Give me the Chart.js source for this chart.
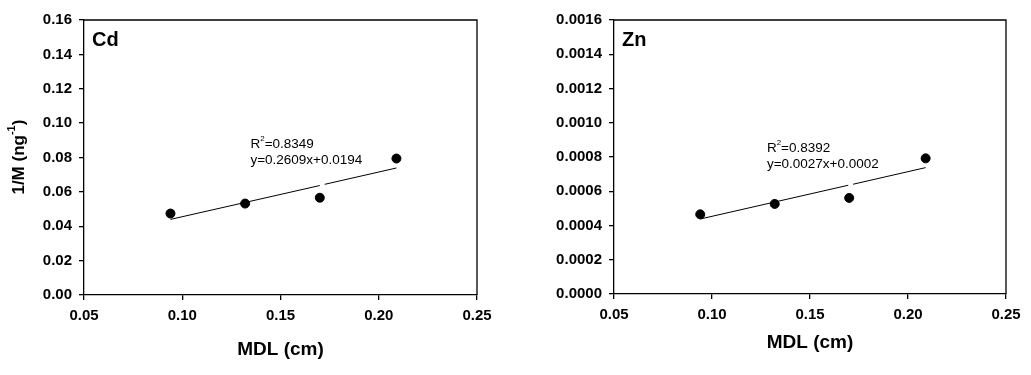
<!DOCTYPE html>
<html>
<head>
<meta charset="utf-8">
<script src="https://cdn.jsdelivr.net/npm/chart.js@4.4.1/dist/chart.umd.min.js"></script>
<style>
  html, body { margin: 0; padding: 0; background: #fff; }
  #wrap { position: relative; width: 1031px; height: 375px; overflow: hidden; }
  .panel { position: absolute; top: 0; height: 375px; }
</style>
</head>
<body>
<div id="wrap">
  <div class="panel" id="cd-box" style="left:0;width:515px"><canvas id="cd"></canvas></div>
  <div class="panel" id="zn-box" style="left:515px;width:516px"><canvas id="zn"></canvas></div>
</div>
<script>
/* ++++++++++ DATA ++++++++++ */
const mdl = [0.094, 0.132, 0.170, 0.209];

const cdValues = [0.0474, 0.0532, 0.0566, 0.0794];
const cdFitX = [0.094, 0.1700, 0.1710, 0.1725, 0.209];
const cdFitY = [0.0440, 0.0637, null, 0.0644, 0.0739];
const cdTicksY = [0, 0.02, 0.04, 0.06, 0.08, 0.10, 0.12, 0.14, 0.16];

const znValues = [0.000465, 0.000526, 0.000561, 0.000792];
const znFitX = [0.094, 0.1695, 0.1705, 0.1720, 0.209];
const znFitY = [0.000438, 0.000635, null, 0.000641, 0.000738];
const znTicksY = [0, 0.0002, 0.0004, 0.0006, 0.0008, 0.0010, 0.0012, 0.0014, 0.0016];

const ticksX = [0.05, 0.10, 0.15, 0.20, 0.25];

/* ++++++++++ HELPERS ++++++++++ */
const FAM = "Arial, 'Liberation Sans', sans-serif";

function toPoints(xs, ys) {
  return xs.map((x, i) => ({ x: x, y: ys[i] }));
}

// draws "base" + superscript + "rest"
function supText(ctx, x, y, base, sup, rest, size, bold) {
  const w = bold ? "bold " : "";
  ctx.font = w + size + "px " + FAM;
  ctx.fillText(base, x, y);
  let cx = x + ctx.measureText(base).width;
  ctx.font = w + Math.round(size * 0.62) + "px " + FAM;
  ctx.fillText(sup, cx, y - size * 0.4);
  cx += ctx.measureText(sup).width;
  ctx.font = w + size + "px " + FAM;
  ctx.fillText(rest, cx, y);
  return cx + ctx.measureText(rest).width;
}

function createPanel(id, opts) {
  const canvas = document.getElementById(id);

  // frame, labels and equation
  const decor = {
    id: "decor",
    afterDraw(chart) {
      const ctx = chart.ctx;
      const a = chart.chartArea;
      const sx = chart.scales.x, sy = chart.scales.y;
      ctx.save();
      ctx.strokeStyle = "#000";
      ctx.lineWidth = 1.3;
      ctx.beginPath();
      ctx.moveTo(a.left, a.top);
      ctx.lineTo(a.right, a.top);
      ctx.lineTo(a.right, a.bottom);
      ctx.stroke();

      ctx.fillStyle = "#000";
      ctx.textBaseline = "middle";
      ctx.textAlign = "left";
      ctx.font = "bold 20px " + FAM;
      ctx.fillText(opts.name, a.left + 8, a.top + 20);

      const ex = sx.getPixelForValue(opts.eqX);
      const ey = sy.getPixelForValue(opts.eqY);
      supText(ctx, ex, ey, "R", "2", "=" + opts.r2, 13.5, false);
      ctx.font = "13.5px " + FAM;
      ctx.fillText(opts.eq, ex, ey + 16);

      // x title
      ctx.textAlign = "center";
      ctx.font = "bold 19px " + FAM;
      ctx.fillText("MDL (cm)", (a.left + a.right) / 2, opts.xTitleY);

      // y title
      if (opts.yTitle) {
        ctx.translate(19, 157);
        ctx.rotate(-Math.PI / 2);
        ctx.textAlign = "left";
        ctx.font = "bold 17px " + FAM;
        const base = "1/M (ng";
        const tw = ctx.measureText(base + ")").width + 10;
        supText(ctx, -tw / 2, 0, base, "-1", ")", 17, true);
      }
      ctx.restore();
    }
  };

  const font = { family: FAM, size: 15, weight: "bold" };

  return new Chart(canvas, {
    type: "scatter",
    data: {
      datasets: [
        {
          label: "measured",
          data: toPoints(mdl, opts.values),
          backgroundColor: "#000",
          borderColor: "#000",
          pointRadius: 4.5,
          pointHoverRadius: 4.5
        },
        {
          label: "fit",
          data: toPoints(opts.fitX, opts.fitY),
          showLine: true,
          spanGaps: false,
          borderColor: "#000",
          borderWidth: 1,
          pointRadius: 0,
          pointHoverRadius: 0
        }
      ]
    },
    options: {
      responsive: false,
      animation: false,
      layout: { padding: { left: 0, top: 20, right: opts.padRight, bottom: 0 } },
      plugins: { legend: { display: false }, tooltip: { enabled: false } },
      scales: {
        x: {
          type: "linear",
          min: 0.05,
          max: 0.25,
          afterBuildTicks: s => { s.ticks = ticksX.map(v => ({ value: v })); },
          afterFit: s => { s.height = opts.xHeight; },
          grid: { drawOnChartArea: false, drawTicks: true, tickLength: 5, color: "#000", lineWidth: 1.3 },
          border: { display: true, color: "#000", width: 1.3 },
          ticks: { color: "#000", font: font, padding: 7, maxRotation: 0, callback: v => v.toFixed(2) }
        },
        y: {
          type: "linear",
          min: 0,
          max: opts.ticksY[opts.ticksY.length - 1],
          afterBuildTicks: s => { s.ticks = opts.ticksY.map(v => ({ value: v })); },
          afterFit: s => { s.width = opts.yWidth; },
          grid: { drawOnChartArea: false, drawTicks: true, tickLength: 5, color: "#000", lineWidth: 1.3 },
          border: { display: true, color: "#000", width: 1.3 },
          ticks: { color: "#000", font: font, padding: 7, callback: v => v.toFixed(opts.digits) }
        }
      }
    },
    plugins: [decor]
  });
}

/* ++++++++++ PANELS ++++++++++ */
const cdCanvas = document.getElementById("cd");
cdCanvas.width = 515; cdCanvas.height = 375;
const znCanvas = document.getElementById("zn");
znCanvas.width = 516; znCanvas.height = 375;

createPanel("cd", {
  name: "Cd",
  values: cdValues,
  fitX: cdFitX,
  fitY: cdFitY,
  ticksY: cdTicksY,
  digits: 2,
  r2: "0.8349",
  eq: "y=0.2609x+0.0194",
  eqX: 0.1347,
  eqY: 0.0875,
  yTitle: true,
  yWidth: 84,
  xHeight: 80,
  padRight: 38,
  xTitleY: 350
});

createPanel("zn", {
  name: "Zn",
  values: znValues,
  fitX: znFitX,
  fitY: znFitY,
  ticksY: znTicksY,
  digits: 4,
  r2: "0.8392",
  eq: "y=0.0027x+0.0002",
  eqX: 0.128,
  eqY: 0.000853,
  yTitle: false,
  yWidth: 99,
  xHeight: 81,
  padRight: 25,
  xTitleY: 343
});
</script>
</body>
</html>
